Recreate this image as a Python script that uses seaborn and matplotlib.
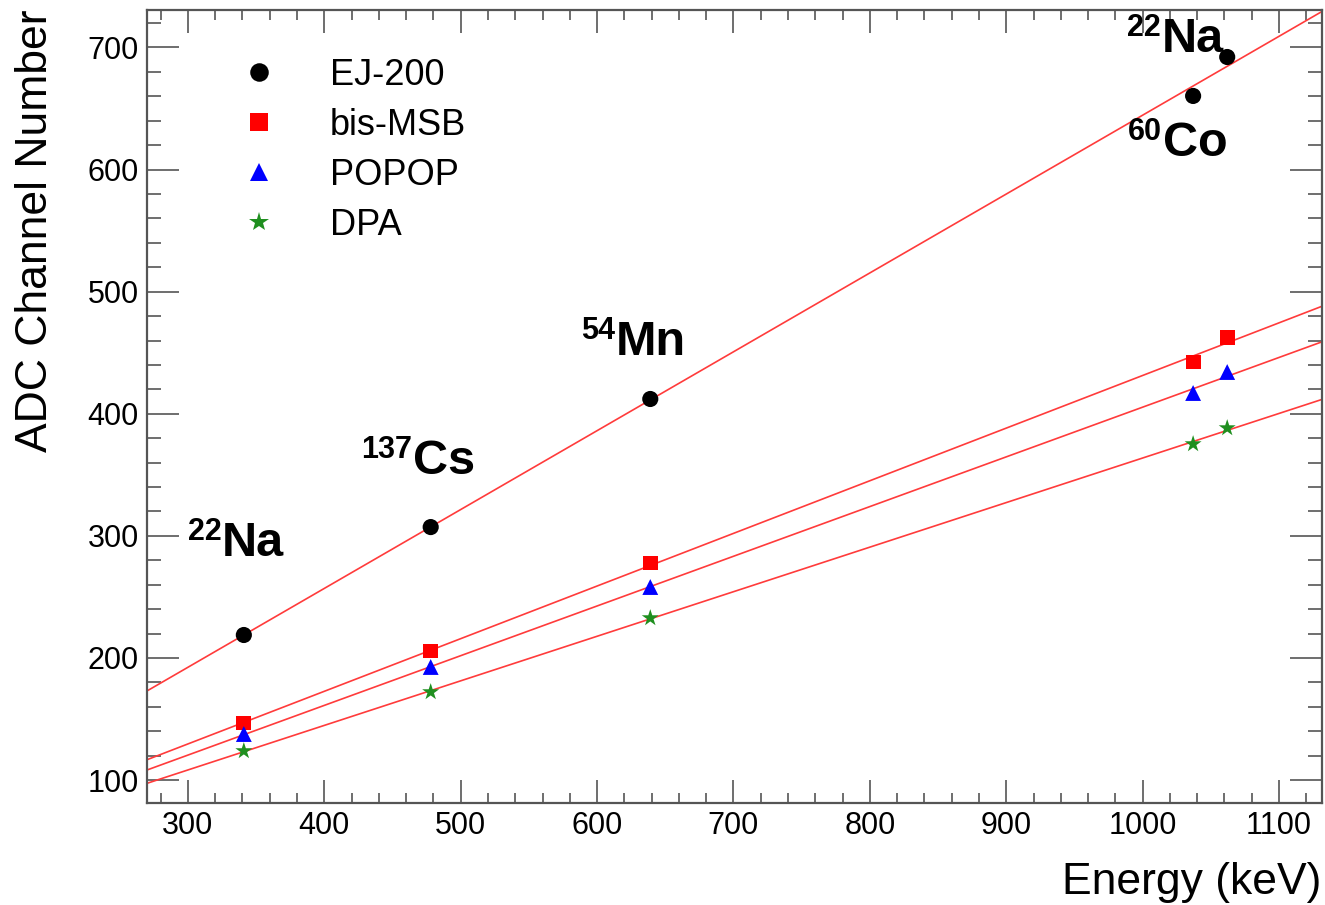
import numpy as np
import pandas as pd
import matplotlib
matplotlib.use('Agg')
import matplotlib.pyplot as plt
import seaborn as sns
from matplotlib.ticker import MultipleLocator

# ---- data ----
energy = [341, 478, 639, 1037, 1062]
ej200 = [218.8, 307.2, 412.1, 660.3, 692.2]
bis_msb = [146.7, 205.7, 277.8, 442.4, 462.1]
popop = [137.7, 192.6, 258.1, 417.0, 434.2]
dpa = [123.8, 172.1, 232.7, 375.2, 388.3]
materials = ['EJ-200', 'bis-MSB', 'POPOP', 'DPA']

# source annotations
source_main = ['Na', 'Cs', 'Mn', 'Co', 'Na']
source_mass = ['22', '137', '54', '60', '22']
source_x = [325.0, 465.0, 613.8, 1014.9, 1014.1]
source_y = [283.5, 350.7, 448.2, 611.2, 696.4]

sns.set_theme(style='ticks')
plt.rcParams['font.family'] = ['Liberation Sans', 'DejaVu Sans']
plt.rcParams['text.color'] = 'black'

series = [ej200, bis_msb, popop, dpa]
df = pd.DataFrame({
    'Energy': energy * 4,
    'ADC': [v for s in series for v in s],
    'Material': np.repeat(materials, len(energy)),
})

fig = plt.figure(figsize=(13.25, 9.05), dpi=100)
ax = fig.add_axes([147 / 1325, 1 - 803 / 905, 1175 / 1325, 793 / 905])
ax.set_xlim(270, 1131.5)
ax.set_ylim(81.2, 730.7)

for vals in series:
    sns.regplot(x=energy, y=vals, ax=ax, scatter=False, ci=None, truncate=False,
                line_kws=dict(color='#ff3b3b', lw=1.2))

palette = {'EJ-200': 'black', 'bis-MSB': '#ff0000', 'POPOP': '#0000ff', 'DPA': '#1f8f1f'}
markers = {'EJ-200': 'o', 'bis-MSB': 's', 'POPOP': '^', 'DPA': '*'}
sizes = {'EJ-200': 135, 'bis-MSB': 115, 'POPOP': 130, 'DPA': 165}
sns.scatterplot(data=df, x='Energy', y='ADC', hue='Material', style='Material',
                size='Material', palette=palette, markers=markers, sizes=sizes,
                linewidth=0, ax=ax, zorder=5, legend='full')

ax.set_xlim(270, 1131.5)
ax.set_ylim(81.2, 730.7)

old = ax.get_legend()
handles = list(old.legend_handles)
labels = [t.get_text() for t in old.get_texts()]
old.remove()
pairs = [(h, l) for h, l in zip(handles, labels) if l in materials]
leg = ax.legend([p[0] for p in pairs], [p[1] for p in pairs], loc='upper left',
                bbox_to_anchor=(0.0647, 0.94), frameon=False, fontsize=26,
                handletextpad=0.95, labelspacing=0.42, borderpad=0, borderaxespad=0,
                handlelength=2.0, markerscale=1.15)
for t in leg.get_texts():
    t.set_color('black')

# ticks (ROOT style)
for axis in (ax.xaxis, ax.yaxis):
    axis.set_major_locator(MultipleLocator(100))
    axis.set_minor_locator(MultipleLocator(20))
ax.tick_params(axis='x', which='major', direction='in', length=16.6, width=1.2,
               top=True, bottom=True, color='#555555', labelcolor='black',
               labelsize=22, pad=6)
ax.tick_params(axis='x', which='minor', direction='in', length=7.2, width=1.2,
               top=True, bottom=True, color='#555555')
ax.tick_params(axis='y', which='major', direction='in', length=23, width=1.2,
               left=True, right=True, color='#555555', labelcolor='black',
               labelsize=22, pad=6)
ax.tick_params(axis='y', which='minor', direction='in', length=10, width=1.2,
               left=True, right=True, color='#555555')
for sp in ax.spines.values():
    sp.set_visible(True)
    sp.set_linewidth(1.6)
    sp.set_color('#555555')

ax.set_xlabel('')
ax.set_ylabel('')
fig.text(36 / 1325, 1 - 10 / 905, 'ADC Channel Number', rotation=90,
         ha='center', va='top', fontsize=32, color='black')
fig.text(1321 / 1325, 1 - 894 / 905, 'Energy (keV)', ha='right',
         va='baseline', fontsize=32, color='black')

for m, sup, x, y in zip(source_main, source_mass, source_x, source_y):
    ax.text(x, y, m, fontsize=35, fontweight='bold', ha='left', va='baseline',
            color='black', zorder=6)
    ax.annotate(sup, xy=(x, y), xytext=(-0.5, 11.5), textcoords='offset points',
                fontsize=22, fontweight='bold', ha='right', va='baseline',
                color='black', zorder=6)

fig.savefig('out.png', dpi=100)
